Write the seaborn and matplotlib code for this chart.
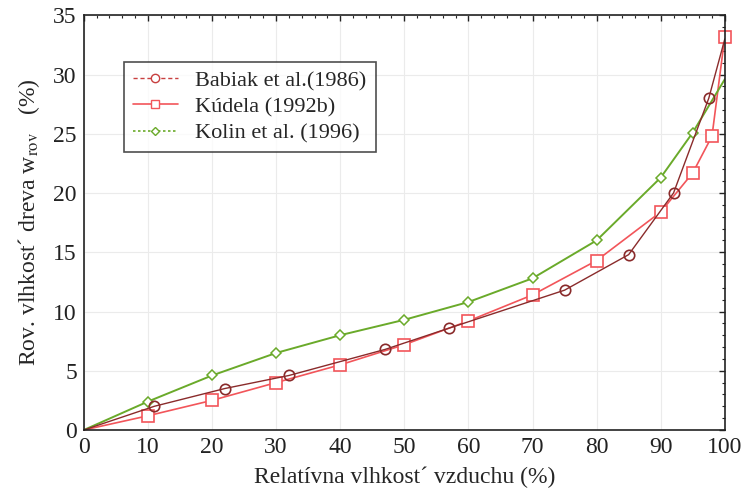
import numpy as np
import pandas as pd
import matplotlib.pyplot as plt
import seaborn as sns
from matplotlib.lines import Line2D
from matplotlib.ticker import MultipleLocator

# Babiak et al. (1986)
babiak_x = [0, 11, 22, 32, 47, 57, 75, 85, 92, 97.5, 100]
babiak_y = [0, 2.0, 3.5, 4.6, 6.8, 8.6, 11.8, 14.8, 20.0, 28.0, 33.0]

# Kúdela (1992b)
kudela_x = [0, 10, 20, 30, 40, 50, 60, 70, 80, 90, 95, 98, 100]
kudela_y = [0, 1.2, 2.5, 4.0, 5.5, 7.2, 9.2, 11.4, 14.3, 18.4, 21.7, 24.8, 33.2]

# Kolin et al. (1996)
kolin_x = [0, 10, 20, 30, 40, 50, 60, 70, 80, 90, 95, 100]
kolin_y = [0, 2.4, 4.6, 6.5, 8.0, 9.3, 10.8, 12.8, 16.0, 21.3, 25.1, 29.6]

labels = ["Babiak et al.(1986)", "Kúdela (1992b)", "Kolin et al. (1996)"]

sns.set_style("white")
plt.rcParams["font.family"] = ["Liberation Serif", "DejaVu Serif"]
plt.rcParams["mathtext.fontset"] = "stix"

fig = plt.figure(figsize=(7.48, 4.92), dpi=100)
ax = fig.add_axes([0.112, 0.126, 0.857, 0.843])

c_bab = "#8a2b2b"
c_kud = "#f2555a"
c_kol = "#6aaa2a"

# skip the marker at the origin (hidden by the axes in the original)
sns.lineplot(x=kudela_x, y=kudela_y, ax=ax, color=c_kud, linewidth=1.2,
             marker="s", markersize=8, markerfacecolor="white",
             markeredgecolor=c_kud, markeredgewidth=1.2,
             markevery=list(range(1, len(kudela_x))), clip_on=False)
sns.lineplot(x=kolin_x, y=kolin_y, ax=ax, color=c_kol, linewidth=1.4,
             marker="D", markersize=5, markerfacecolor="white",
             markeredgecolor=c_kol, markeredgewidth=1.1,
             markevery=list(range(1, len(kolin_x) - 1)))
sns.lineplot(x=babiak_x, y=babiak_y, ax=ax, color=c_bab, linewidth=1.0,
             marker="o", markersize=7.5, markerfacecolor="none",
             markeredgecolor=c_bab, markeredgewidth=1.2,
             markevery=list(range(1, len(babiak_x) - 1)))

ax.set_xlim(0, 100)
ax.set_ylim(0, 35)
ax.xaxis.set_major_locator(MultipleLocator(10))
ax.xaxis.set_minor_locator(MultipleLocator(2))
ax.yaxis.set_major_locator(MultipleLocator(5))
ax.yaxis.set_minor_locator(MultipleLocator(1))
ax.tick_params(which="both", direction="in", top=True, right=True,
               labelsize=17, colors="#222222")
ax.tick_params(which="major", length=4, width=1, pad=5)
ax.tick_params(which="minor", length=2.5, width=0.8)
ax.grid(True, which="major", color="#ebebeb", linewidth=0.8)
for s in ax.spines.values():
    s.set_color("#222222")
    s.set_linewidth(1.2)

ax.set_xlabel("Relatívna vlhkost´ vzduchu (%)", fontsize=17, labelpad=6)
ax.set_ylabel("Rov. vlhkost´ dreva w$_{\\mathrm{rov}}$   (%)", fontsize=17, labelpad=8)

handles = [
    Line2D([0], [0], color="#c84040", linestyle=(0, (3, 2)), linewidth=1.0,
           marker="o", markersize=6, markerfacecolor="white", markeredgecolor="#c84040"),
    Line2D([0], [0], color=c_kud, linestyle="-", linewidth=1.2,
           marker="s", markersize=6, markerfacecolor="white", markeredgecolor=c_kud),
    Line2D([0], [0], color=c_kol, linestyle=(0, (1.5, 1.5)), linewidth=1.2,
           marker="D", markersize=4, markerfacecolor="white", markeredgecolor=c_kol),
]
leg = ax.legend(handles, labels, loc="upper left", bbox_to_anchor=(0.046, 0.915),
                fontsize=16, frameon=True, fancybox=False, handlelength=2.0,
                borderpad=0.4, labelspacing=0.25)
leg.get_frame().set_edgecolor("#222222")
leg.get_frame().set_linewidth(1.2)

fig.savefig("out.png", dpi=100)
